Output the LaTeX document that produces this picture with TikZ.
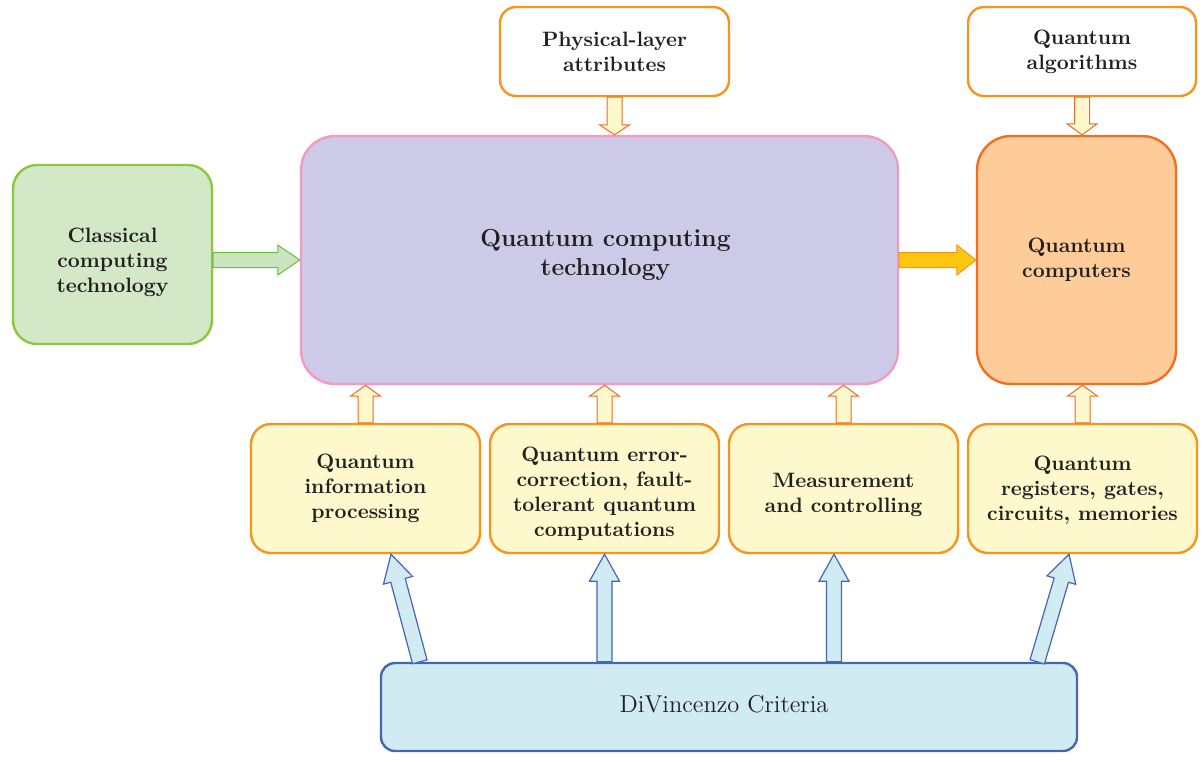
\documentclass[tikz,border=0pt]{standalone}
\usepackage{fontspec}
\usetikzlibrary{calc}
\definecolor{txt}{HTML}{231F20}
\definecolor{grfill}{HTML}{D2E8C6}
\definecolor{grline}{HTML}{8DC63F}
\definecolor{grarrow}{HTML}{C9E6BF}
\definecolor{grarrline}{HTML}{6DBE45}
\definecolor{qfill}{HTML}{CDCAE7}
\definecolor{qline}{HTML}{F49AC1}
\definecolor{orline}{HTML}{F7941D}
\definecolor{qcfill}{HTML}{FECC99}
\definecolor{qcline}{HTML}{F26F21}
\definecolor{yfill}{HTML}{FDF9CD}
\definecolor{arrline}{HTML}{F26A2A}
\definecolor{bfill}{HTML}{D1EBF3}
\definecolor{bline}{HTML}{4466B3}
\definecolor{bigarr}{HTML}{FDC70F}
\newcommand\fatarrow[6]{%
  \coordinate (fa-s) at (#2);
  \coordinate (fa-t) at (#3);
  \coordinate (fa-h) at ($(fa-t)!#6!(fa-s)$);
  \draw[#1] ($(fa-s)!#4!90:(fa-t)$) -- ($(fa-h)!#4!90:(fa-t)$) -- ($(fa-h)!#5!90:(fa-t)$) -- (fa-t)
    -- ($(fa-h)!#5!-90:(fa-t)$) -- ($(fa-h)!#4!-90:(fa-t)$) -- ($(fa-s)!#4!-90:(fa-t)$) -- cycle;}
\newcommand\shiftlines[3]{\hspace*{#1}\raisebox{#2}[\height][\depth]{\begin{tabular}{@{}c@{}}#3\end{tabular}}}
\tikzset{
  box/.style={draw, line width=1.2pt, align=center, text=txt, inner sep=2pt,
    font=\bfseries\fontsize{10.4}{12.5}\selectfont},
  whitebox/.style={box, draw=orline, fill=white, rounded corners=8pt,
    minimum width=114.5pt, minimum height=44.5pt},
  ybox/.style={box, draw=orline, fill=yfill, rounded corners=10pt,
    minimum width=114.5pt, minimum height=64.5pt},
  orarrow/.style={draw=arrline, fill=yfill, line width=0.5pt, line join=miter},
  blarrow/.style={draw=bline, fill=bfill, line width=0.6pt, line join=miter},
}
\begin{document}
\begin{tikzpicture}[x=0.5pt,y=-0.5pt]
\useasboundingbox (0,0) rectangle (1203,761);
% main nodes
\node[box, draw=qline, fill=qfill, rounded corners=17pt, minimum width=298.5pt, minimum height=124pt,
  font=\bfseries\fontsize{12.3}{14.5}\selectfont] (qct) at (599.5,260) {\shiftlines{6pt}{2.5pt}{Quantum computing\\technology}};
\node[box, draw=grline, fill=grfill, rounded corners=12pt, minimum width=99.5pt, minimum height=89.5pt]
  (cls) at (112.5,254.5) {\shiftlines{0pt}{-4pt}{Classical\\computing\\technology}};
\node[box, draw=qcline, fill=qcfill, rounded corners=17pt, minimum width=99.5pt, minimum height=124pt]
  (qc) at (1076.5,260) {Quantum\\computers};
\node[whitebox] (phys) at (614.5,51.5) {Physical-layer\\attributes};
\node[whitebox, minimum width=114pt] (alg) at (1082,51.5) {Quantum\\algorithms};
\node[ybox] (qip) at (365.5,488.5) {Quantum\\information\\processing};
\node[ybox] (qec) at (604.5,488.5) {\shiftlines{0pt}{-2.75pt}{Quantum error-\\correction, fault-\\tolerant quantum\\computations}};
\node[ybox] (meas) at (843.5,488.5) {\shiftlines{0pt}{-3pt}{Measurement\\and controlling}};
\node[ybox] (reg) at (1082.5,488.5) {\shiftlines{0pt}{-1pt}{Quantum\\registers, gates,\\circuits, memories}};
\node[box, draw=bline, fill=bfill, rounded corners=7pt, minimum width=348pt, minimum height=44pt,
  font=\fontsize{12.2}{14}\selectfont] (dv) at (729,707) {\shiftlines{-5pt}{0pt}{DiVincenzo Criteria}};
% horizontal arrows
\fatarrow{draw=grarrline, fill=grarrow, line width=0.5pt}{qct.west -| cls.east}{qct.west}{3.75pt}{7.5pt}{11pt}
\fatarrow{draw=orline, fill=bigarr, line width=0.5pt}{qct.east}{qct.east -| qc.west}{3.75pt}{7.5pt}{9.5pt}
% top down arrows
\fatarrow{orarrow}{phys.south}{qct.north -| phys.south}{3.75pt}{7.5pt}{5pt}
\fatarrow{orarrow}{alg.south}{qc.north -| alg.south}{3.75pt}{7.5pt}{5.5pt}
% up arrows to main boxes
\fatarrow{orarrow}{qip.north}{qct.south -| qip.north}{3.75pt}{7.5pt}{5.5pt}
\fatarrow{orarrow}{qec.north}{qct.south -| qec.north}{3.75pt}{7.5pt}{5.5pt}
\fatarrow{orarrow}{meas.north}{qct.south -| meas.north}{3.75pt}{7.5pt}{5.5pt}
\fatarrow{orarrow}{reg.north}{qc.south -| reg.north}{3.75pt}{7.5pt}{5.5pt}
% blue arrows
\coordinate (b1s) at ($(dv.north west)+(40,0)$);
\coordinate (b1t) at ($(qip.south)+(25.5,0)$);
\coordinate (b3t) at ($(meas.south)+(-9.5,0)$);
\coordinate (b4s) at ($(dv.north east)+(-41,0)$);
\coordinate (b4t) at ($(reg.south)+(-13.5,0)$);
\fatarrow{blarrow}{b1s}{b1t}{3.75pt}{7.5pt}{13.5pt}
\fatarrow{blarrow}{dv.north -| qec.south}{qec.south}{3.75pt}{7.5pt}{13.5pt}
\fatarrow{blarrow}{dv.north -| b3t}{b3t}{3.75pt}{7.5pt}{13.5pt}
\fatarrow{blarrow}{b4s}{b4t}{3.75pt}{7.5pt}{13.5pt}
\end{tikzpicture}
\end{document}
